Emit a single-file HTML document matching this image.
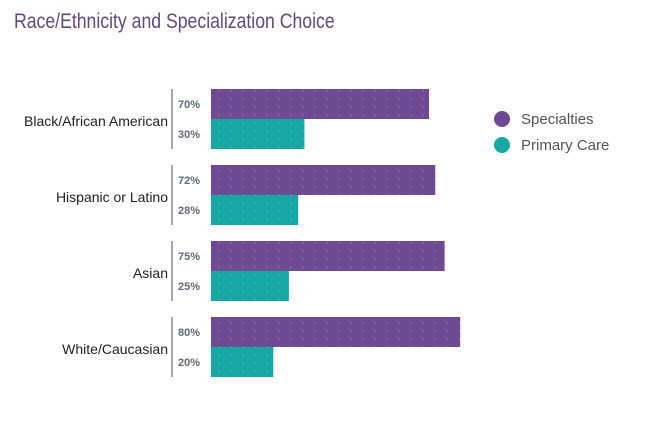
<!DOCTYPE html>
<html><head><meta charset="utf-8"><style>
body{margin:0;background:#fff;width:645px;height:439px;overflow:hidden;font-family:"Liberation Sans",sans-serif}
#title{position:absolute;left:14px;top:10px;font-size:21px;color:#5f4a80;transform:scaleX(0.84);transform-origin:left top;white-space:nowrap}
</style></head><body>
<div id="title">Race/Ethnicity and Specialization Choice</div>
<svg id="chart" width="645" height="439" style="position:absolute;left:0;top:0">
<defs>
<pattern id="dots" width="12" height="8" patternUnits="userSpaceOnUse">
<circle cx="3" cy="3" r="0.7" fill="#ffffff" opacity="0.35"/>
</pattern>
</defs>
<g id="legend">
<circle cx="502" cy="119" r="8" fill="#6d4a91"/>
<text x="521" y="124" font-size="15" fill="#555">Specialties</text>
<circle cx="502" cy="145" r="8" fill="#17a8a6"/>
<text x="521" y="150" font-size="15" fill="#555">Primary Care</text>
</g>
</svg>
<script>
const categories=["Black/African American","Hispanic or Latino","Asian","White/Caucasian"];
const specialties=[70,72,75,80];
const primaryCare=[30,28,25,20];
const svg=document.getElementById('chart');
const NS='http://www.w3.org/2000/svg';
const x0=211,pxPer=3.115,top0=89,groupStep=76,barH=30;
function xs(v){return v*pxPer;}
function mk(t,a){const e=document.createElementNS(NS,t);for(const k in a)e.setAttribute(k,a[k]);svg.appendChild(e);return e;}
categories.forEach((c,i)=>{
  const y=top0+i*groupStep;
  const lab=mk('text',{x:168,y:y+barH+7,'font-size':14,fill:'#222','text-anchor':'end'});
  lab.textContent=c;
  
  
  const ln=mk('line',{x1:172,x2:172,y1:y,y2:y+2*barH,stroke:'#aaa','stroke-width':2});
  
  
  [[specialties[i],'#6d4a91',y,'bar-specialties'],[primaryCare[i],'#17a8a6',y+barH,'bar-primary-care']].forEach(([v,col,yy,nm])=>{
    const r=mk('rect',{x:x0,y:yy,width:xs(v),height:barH,fill:col});
    
    
    const p=mk('rect',{x:x0,y:yy,width:xs(v),height:barH,fill:'url(#dots)'});
    
    
    const t=mk('text',{x:178,y:yy+barH/2+4,'font-size':11,'font-weight':'600',fill:'#5f6b78'});
    t.textContent=v+'%';
    
    
  });
});
</script>
</body></html>
